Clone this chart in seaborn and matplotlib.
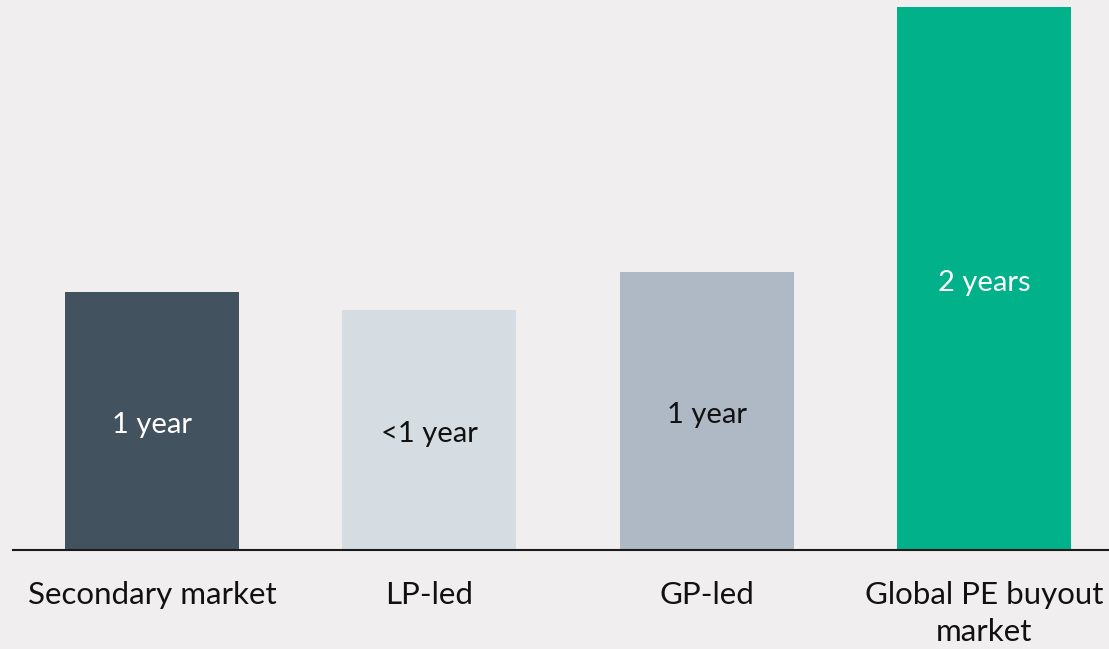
import numpy as np
import pandas as pd
import matplotlib.pyplot as plt
import seaborn as sns

# holding period, months
categories = ["Secondary market", "LP-led", "GP-led", "Global PE buyout\nmarket"]
months = [11.4, 10.6, 12.3, 24.0]
bar_text = ["1 year", "<1 year", "1 year", "2 years"]
bar_colors = ["#43525F", "#D5DDE3", "#AEB9C5", "#00B189"]
text_colors = ["white", "#111111", "#111111", "white"]

bg = "#F0EEEF"

sns.set_theme(style="white")
plt.rcParams["font.family"] = ["Lato", "DejaVu Sans"]

fig = plt.figure(figsize=(11.09, 6.49), dpi=100, facecolor=bg)
ax = fig.add_axes([13 / 1109, 99 / 649, 1 - 13 / 1109, 1 - 99 / 649])
ax.set_facecolor(bg)

df = pd.DataFrame({"cat": categories, "months": months})
sns.barplot(data=df, x="cat", y="months", hue="cat", palette=bar_colors,
            width=0.627, legend=False, ax=ax, saturation=1,
            edgecolor="none", linewidth=0)

ax.set_xlim(-0.501, 3.451)
ax.set_ylim(0, 24 * 550 / 543)

for i, cont in enumerate(ax.containers):
    anns = ax.bar_label(cont, labels=[bar_text[i]], label_type="center",
                        fontsize=21, color=text_colors[i])
    for a in anns:
        a.xyann = (0, -3)  # labels sit a touch below centre

for s in ["top", "right", "left"]:
    ax.spines[s].set_visible(False)
ax.spines["bottom"].set_color("#1a1a1a")
ax.spines["bottom"].set_linewidth(1.5)

ax.set_yticks([])
ax.set_xlabel("")
ax.set_ylabel("")
ax.tick_params(axis="x", length=0, pad=22, labelsize=22.5, labelcolor="#111111")
for lbl in ax.get_xticklabels():
    lbl.set_verticalalignment("top")
    lbl.set_linespacing(1.4)

fig.savefig("out.png", dpi=100, facecolor=bg)
